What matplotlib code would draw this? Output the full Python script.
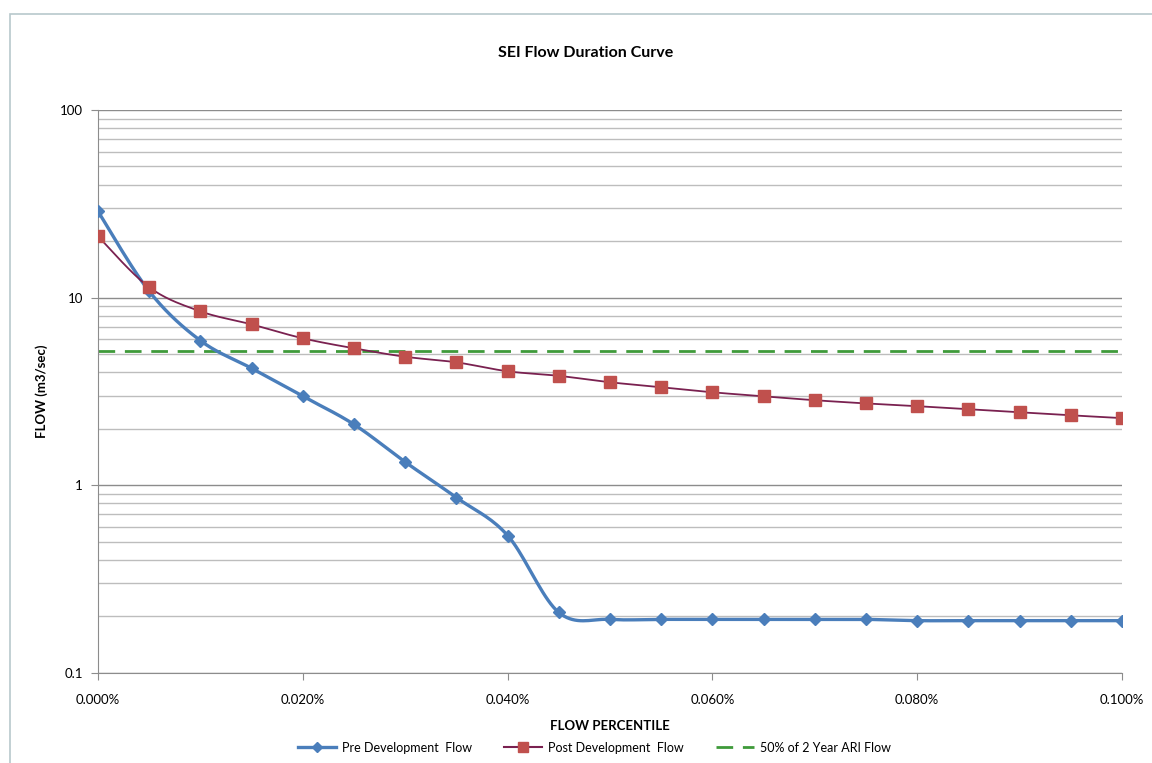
import numpy as np
import matplotlib.pyplot as plt
from matplotlib.ticker import FixedLocator, FuncFormatter, NullFormatter
from matplotlib.patches import Rectangle

plt.rcParams['font.family'] = ['Lato', 'DejaVu Sans']

# data
percentile = [0.000, 0.005, 0.010, 0.015, 0.020, 0.025, 0.030, 0.035, 0.040, 0.045, 0.050,
              0.055, 0.060, 0.065, 0.070, 0.075, 0.080, 0.085, 0.090, 0.095, 0.100]
pre_flow = [28.8, 10.8, 5.9, 4.2, 2.98, 2.11, 1.33, 0.86, 0.54, 0.21, 0.193,
            0.193, 0.193, 0.193, 0.193, 0.193, 0.19, 0.19, 0.19, 0.19, 0.19]
post_flow = [21.2, 11.35, 8.45, 7.2, 6.07, 5.37, 4.84, 4.52, 4.05, 3.83, 3.54,
             3.33, 3.13, 2.98, 2.84, 2.73, 2.64, 2.54, 2.45, 2.36, 2.28]
ari_flow = 5.17


def smooth(x, y, n=20):
    # excel style smoothed line (catmull-rom in log space)
    x = np.asarray(x, float)
    ly = np.log10(y)
    px = np.concatenate([[x[0]], x, [x[-1]]])
    py = np.concatenate([[ly[0]], ly, [ly[-1]]])
    xs, ys = [], []
    for i in range(1, len(px) - 2):
        p0x, p1x, p2x, p3x = px[i - 1:i + 3]
        p0y, p1y, p2y, p3y = py[i - 1:i + 3]
        c1x, c1y = p1x + (p2x - p0x) / 6, p1y + (p2y - p0y) / 6
        c2x, c2y = p2x - (p3x - p1x) / 6, p2y - (p3y - p1y) / 6
        t = np.linspace(0, 1, n)
        b = [(1 - t) ** 3, 3 * (1 - t) ** 2 * t, 3 * (1 - t) * t ** 2, t ** 3]
        xs.append(b[0] * p1x + b[1] * c1x + b[2] * c2x + b[3] * p2x)
        ys.append(b[0] * p1y + b[1] * c1y + b[2] * c2y + b[3] * p2y)
    return np.concatenate(xs), 10 ** np.concatenate(ys)


fig = plt.figure(figsize=(11.52, 7.63), dpi=100)
ax = fig.add_axes([0.0851, 0.118, 0.8889, 0.7379])

fig.patches.append(Rectangle((10 / 1152, -0.1), 2, 1 - 14 / 763 + 0.1, transform=fig.transFigure,
                             fill=False, edgecolor='#b8c8cc', linewidth=1.2))

blue = '#4a7ebb'
red = '#c0504d'

sx, sy = smooth(percentile, pre_flow)
ax.plot(sx, sy, color=blue, linewidth=2.4, zorder=3)
ax.plot(percentile, pre_flow, linestyle='none', marker='D', markersize=6, color=blue, zorder=4)
sx, sy = smooth(percentile, post_flow)
ax.plot(sx, sy, color='#7a2150', linewidth=1.3, zorder=3)
ax.plot(percentile, post_flow, linestyle='none', marker='s', markersize=8.5, color=red, zorder=4)
ax.axhline(ari_flow, color='#3f9a3a', linewidth=2, dashes=(6, 3.5), zorder=2)

# legend handles
ax.plot([], [], color=blue, linewidth=2.4, marker='D', markersize=5, label='Pre Development  Flow')
ax.plot([], [], color='#7a2150', linewidth=1.5, marker='s', markersize=7, markerfacecolor=red,
        markeredgecolor=red, label='Post Development  Flow')
ax.plot([], [], color='#3f9a3a', linewidth=2, dashes=(6, 3.5), label='50% of 2 Year ARI Flow')

ax.set_yscale('log')
ax.set_ylim(0.1, 100)
ax.set_xlim(0, 0.1)
ax.xaxis.set_major_locator(FixedLocator([0, 0.02, 0.04, 0.06, 0.08, 0.1]))
ax.xaxis.set_major_formatter(FuncFormatter(lambda v, p: '%.3f%%' % v))
ax.yaxis.set_major_formatter(FuncFormatter(lambda v, p: '%g' % v))
ax.yaxis.set_minor_formatter(NullFormatter())

ax.grid(True, which='major', axis='y', color='#8c8c8c', linewidth=1)
ax.grid(True, which='minor', axis='y', color='#bdbdbd', linewidth=1)
ax.set_axisbelow(True)
for s in ['top', 'right']:
    ax.spines[s].set_visible(False)
for s in ['left', 'bottom']:
    ax.spines[s].set_color('#8c8c8c')
ax.tick_params(axis='both', which='major', length=5, color='#8c8c8c', labelsize=9.5, pad=6)
ax.tick_params(axis='y', which='minor', length=0)
ax.tick_params(axis='x', pad=10)

ax.set_title('SEI Flow Duration Curve', fontsize=11.5, fontweight='bold', pad=38, x=0.476)
ax.set_xlabel('FLOW PERCENTILE', fontsize=9.5, fontweight='bold', labelpad=10)
ax.set_ylabel('FLOW (m3/sec)', fontsize=9.5, fontweight='bold')
ax.yaxis.set_label_coords(-0.049, 0.5)

ax.legend(loc='center', bbox_to_anchor=(0.485, -0.133), ncol=3, frameon=False,
          fontsize=9, handlelength=3, handletextpad=0.5, columnspacing=2.6, numpoints=1)

fig.savefig('out.png', dpi=100)
